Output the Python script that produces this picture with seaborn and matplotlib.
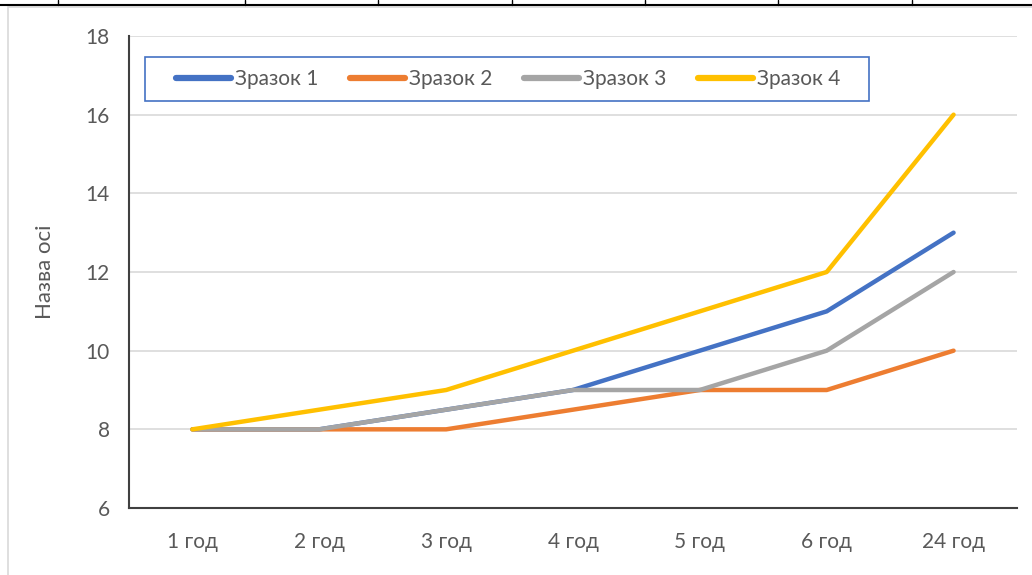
import pandas as pd
import matplotlib
matplotlib.use("Agg")
import matplotlib.pyplot as plt
import seaborn as sns
from matplotlib.lines import Line2D
from matplotlib.patches import Rectangle

# дані з графіка
categories = ["1 год", "2 год", "3 год", "4 год", "5 год", "6 год", "24 год"]
zrazok1 = [8, 8, 8.5, 9, 10, 11, 13]
zrazok2 = [8, 8, 8, 8.5, 9, 9, 10]
zrazok3 = [8, 8, 8.5, 9, 9, 10, 12]
zrazok4 = [8, 8.5, 9, 10, 11, 12, 16]
series_names = ["Зразок 1", "Зразок 2", "Зразок 3", "Зразок 4"]
y_ticks = [6, 8, 10, 12, 14, 16, 18]

rows = []
for name, vals in zip(series_names, [zrazok1, zrazok2, zrazok3, zrazok4]):
    for c, v in zip(categories, vals):
        rows.append({"час": c, "значення": v, "серія": name})
df = pd.DataFrame(rows)

sns.set_style("white")
plt.rcParams["font.family"] = ["Lato", "DejaVu Sans"]

colors = ["#4472C4", "#ED7D31", "#A5A5A5", "#FFC000"]
fig = plt.figure(figsize=(10.32, 5.75), dpi=100)
ax = fig.add_axes([129 / 1032, 67 / 575, 888 / 1032, 472 / 575])

sns.lineplot(data=df, x="час", y="значення", hue="серія", palette=colors,
             linewidth=3.2, sort=False, ax=ax)
for ln in ax.get_lines():
    ln.set_solid_capstyle("round")
    ln.set_solid_joinstyle("round")

ax.set_xlim(-0.5, 6.5)
ax.set_ylim(6, 18)
ax.set_yticks(y_ticks)
ax.grid(axis="y", color="#D9D9D9", linewidth=1.2)
ax.set_axisbelow(True)
for s in ["top", "right"]:
    ax.spines[s].set_visible(False)
for s in ["left", "bottom"]:
    ax.spines[s].set_color("#404040")
    ax.spines[s].set_linewidth(1.5)
ax.tick_params(axis="both", length=0, labelsize=15, colors="#595959")
ax.tick_params(axis="x", pad=17)
ax.tick_params(axis="y", pad=14)
ax.set_xlabel("")
ax.set_ylabel("Назва осі", fontsize=16, color="#595959", labelpad=22)

# легенда без власної рамки, рамку малюємо окремо
handles = [Line2D([0], [0], color=c, lw=4.5, solid_capstyle="round") for c in colors]
leg = ax.legend(handles, series_names, ncol=4, loc="center left",
                bbox_to_anchor=((176 - 129) / 888, (508 - 79) / 472), fontsize=15,
                frameon=False, handlelength=2.65, handletextpad=0.2,
                columnspacing=1.5, borderpad=0, borderaxespad=0)
for t in leg.get_texts():
    t.set_color("#595959")
ax.add_patch(Rectangle(((145 - 129) / 888, (508 - 101) / 472), (869 - 145) / 888, 44 / 472,
                       transform=ax.transAxes, fill=True, facecolor="none",
                       edgecolor="#4472C4", linewidth=1.2, zorder=5))

# рамка діаграми і край таблиці зверху
fig.patches.append(Rectangle((8 / 1032, -0.05), 1.1, (575 - 7) / 575 + 0.05,
                             transform=fig.transFigure, fill=False,
                             edgecolor="#D9D9D9", linewidth=1.2))
fig.lines.append(Line2D([0, 1], [1 - 5 / 575, 1 - 5 / 575], transform=fig.transFigure,
                        color="black", linewidth=1.5))
for xp in [58, 245, 378, 512, 645, 778, 912]:
    fig.lines.append(Line2D([xp / 1032, xp / 1032], [1 - 5 / 575, 1],
                            transform=fig.transFigure, color="black", linewidth=1))

fig.savefig("out.png", dpi=100)
